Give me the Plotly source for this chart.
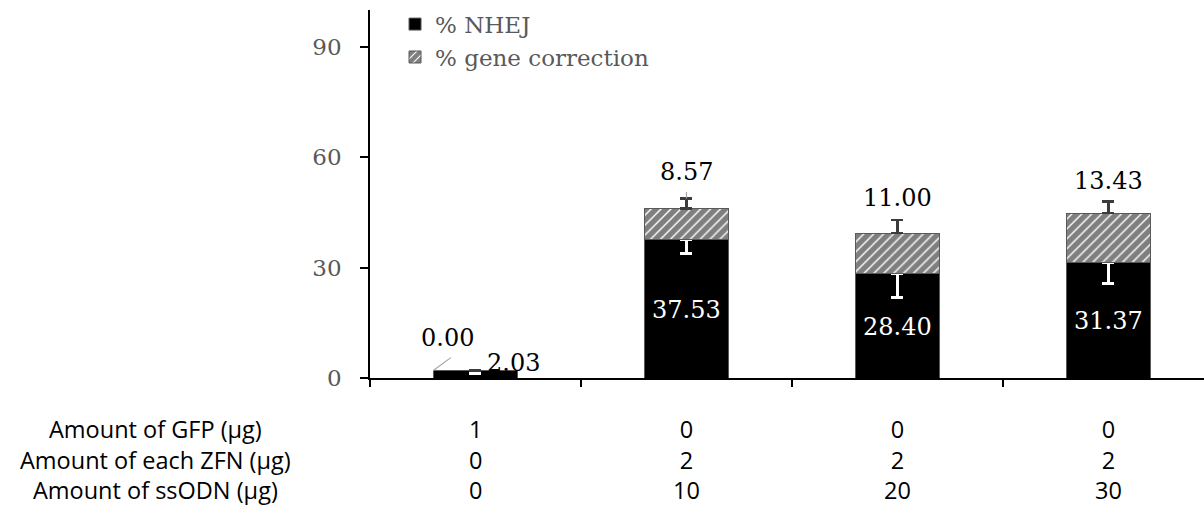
import plotly.graph_objects as go

# --- data -----------------------------------------------------------------
nhej = [2.03, 37.53, 28.40, 31.37]            # % NHEJ
gene_corr = [0.00, 8.57, 11.00, 13.43]        # % gene correction
nhej_err = [0.9, 3.8, 6.5, 5.7]               # lower error of % NHEJ
gene_corr_err = [None, 2.7, 3.5, 3.1]         # upper error of total

row_labels = ["Amount of GFP (\u00b5g)", "Amount of each ZFN (\u00b5g)", "Amount of ssODN (\u00b5g)"]
gfp_ug = [1, 0, 0, 0]
zfn_ug = [0, 2, 2, 2]
ssodn_ug = [0, 10, 20, 30]
y_ticks = [0, 30, 60, 90]

# --- styling ----------------------------------------------------------------
SERIF = "DejaVu Serif"
SANS = "Open Sans"
BAR_W = 0.40
x_pos = list(range(len(nhej)))

fig = go.Figure()

fig.add_trace(go.Bar(
    x=x_pos, y=nhej, width=BAR_W, name="% NHEJ",
    legendgroup="a",
    marker=dict(color="black", line=dict(color="#595959", width=1)),
    error_y=dict(type="data", symmetric=False,
                 array=[0] * len(nhej), arrayminus=nhej_err,
                 color="white", thickness=3, width=6),
))

fig.add_trace(go.Bar(
    x=x_pos, y=gene_corr, width=BAR_W, name="% gene correction",
    legendgroup="b",
    marker=dict(color="white", line=dict(color="#595959", width=1),
                pattern=dict(shape="/", fgcolor="black", bgcolor="white",
                             size=7, solidity=0.8)),
    error_y=dict(type="data", symmetric=False,
                 array=gene_corr_err, arrayminus=[0] * len(gene_corr),
                 color="#3c3c3c", thickness=2.5, width=6),
))

annotations = []

# % NHEJ values inside the black segments
for i, v in enumerate(nhej[1:], start=1):
    annotations.append(dict(x=i, y=v / 2, text=f"{v:.2f}", showarrow=False,
                            yshift=-1, font=dict(family=SERIF, size=24, color="white")))
# first-condition NHEJ value sits beside its short bar
annotations.append(dict(x=0, y=nhej[0], text=f"{nhej[0]:.2f}", showarrow=False,
                        xshift=38, yshift=8, font=dict(family=SERIF, size=24, color="black")))

# % gene correction values above the stacks
tops = [a + b + (e or 0) for a, b, e in zip(nhej, gene_corr, gene_corr_err)]
gc_dy = [None, 26, 22, 21]
for i in range(1, len(gene_corr)):
    annotations.append(dict(x=i, y=tops[i], text=f"{gene_corr[i]:.2f}", showarrow=False,
                            yshift=gc_dy[i], font=dict(family=SERIF, size=24, color="black")))
# leader line for 8.57
annotations.append(dict(x=1, y=tops[1], text="", showarrow=True, arrowhead=0,
                        arrowwidth=1.2, arrowcolor="#a6a6a6", ax=0, ay=-8, standoff=0))
# first-condition gene-correction value with its leader line
annotations.append(dict(x=0, y=nhej[0] + gene_corr[0], text=f"{gene_corr[0]:.2f}", showarrow=False,
                        xshift=-28, yshift=33, font=dict(family=SERIF, size=24, color="black")))
annotations.append(dict(x=-BAR_W / 2, y=nhej[0] + gene_corr[0], text="", showarrow=True, arrowhead=0,
                        arrowwidth=1.2, arrowcolor="#a6a6a6", ax=19, ay=-14, standoff=0))

# condition table under the axis: one text block per column
TABLE_FONT = dict(family=SANS, size=23.5, color="black")
TABLE_DY = -81
annotations.append(dict(xref="paper", yref="paper", x=0, y=0, xshift=-215, yshift=TABLE_DY,
                        text="<br>".join(row_labels), showarrow=False, align="center",
                        xanchor="center", yanchor="middle", font=TABLE_FONT))
for i, col in enumerate(zip(gfp_ug, zfn_ug, ssodn_ug)):
    annotations.append(dict(x=i, xref="x", yref="paper", y=0, yshift=TABLE_DY,
                            text="<br>".join(str(v) for v in col), showarrow=False,
                            align="center", xanchor="center", yanchor="middle", font=TABLE_FONT))

fig.update_layout(
    width=1204, height=510,
    margin=dict(l=370, r=0, t=10, b=132),
    plot_bgcolor="white", paper_bgcolor="white",
    barmode="stack",
    showlegend=True,
    legend=dict(x=0.030, y=1.02, xanchor="left", yanchor="top",
                font=dict(family=SERIF, size=23, color="#595959"),
                tracegroupgap=17, traceorder="normal", bgcolor="rgba(0,0,0,0)",
                itemwidth=30),
    annotations=annotations,
    xaxis=dict(range=[-0.5, 3.453], tickvals=[-0.5, 0.5, 1.5, 2.5], ticks="outside",
               ticklen=7, tickwidth=1.5, tickcolor="black", showticklabels=False,
               showline=True, linecolor="black", linewidth=1.5,
               showgrid=False, zeroline=False),
    yaxis=dict(range=[0, 100], tickvals=y_ticks, ticks="outside", ticklen=8,
               tickwidth=1.5, tickcolor="black", showline=True, linecolor="black",
               linewidth=1.5, showgrid=False, zeroline=False,
               tickfont=dict(family=SERIF, size=23, color="#595959"),
               ticklabelstandoff=14),
)

fig.write_html("out.html")
